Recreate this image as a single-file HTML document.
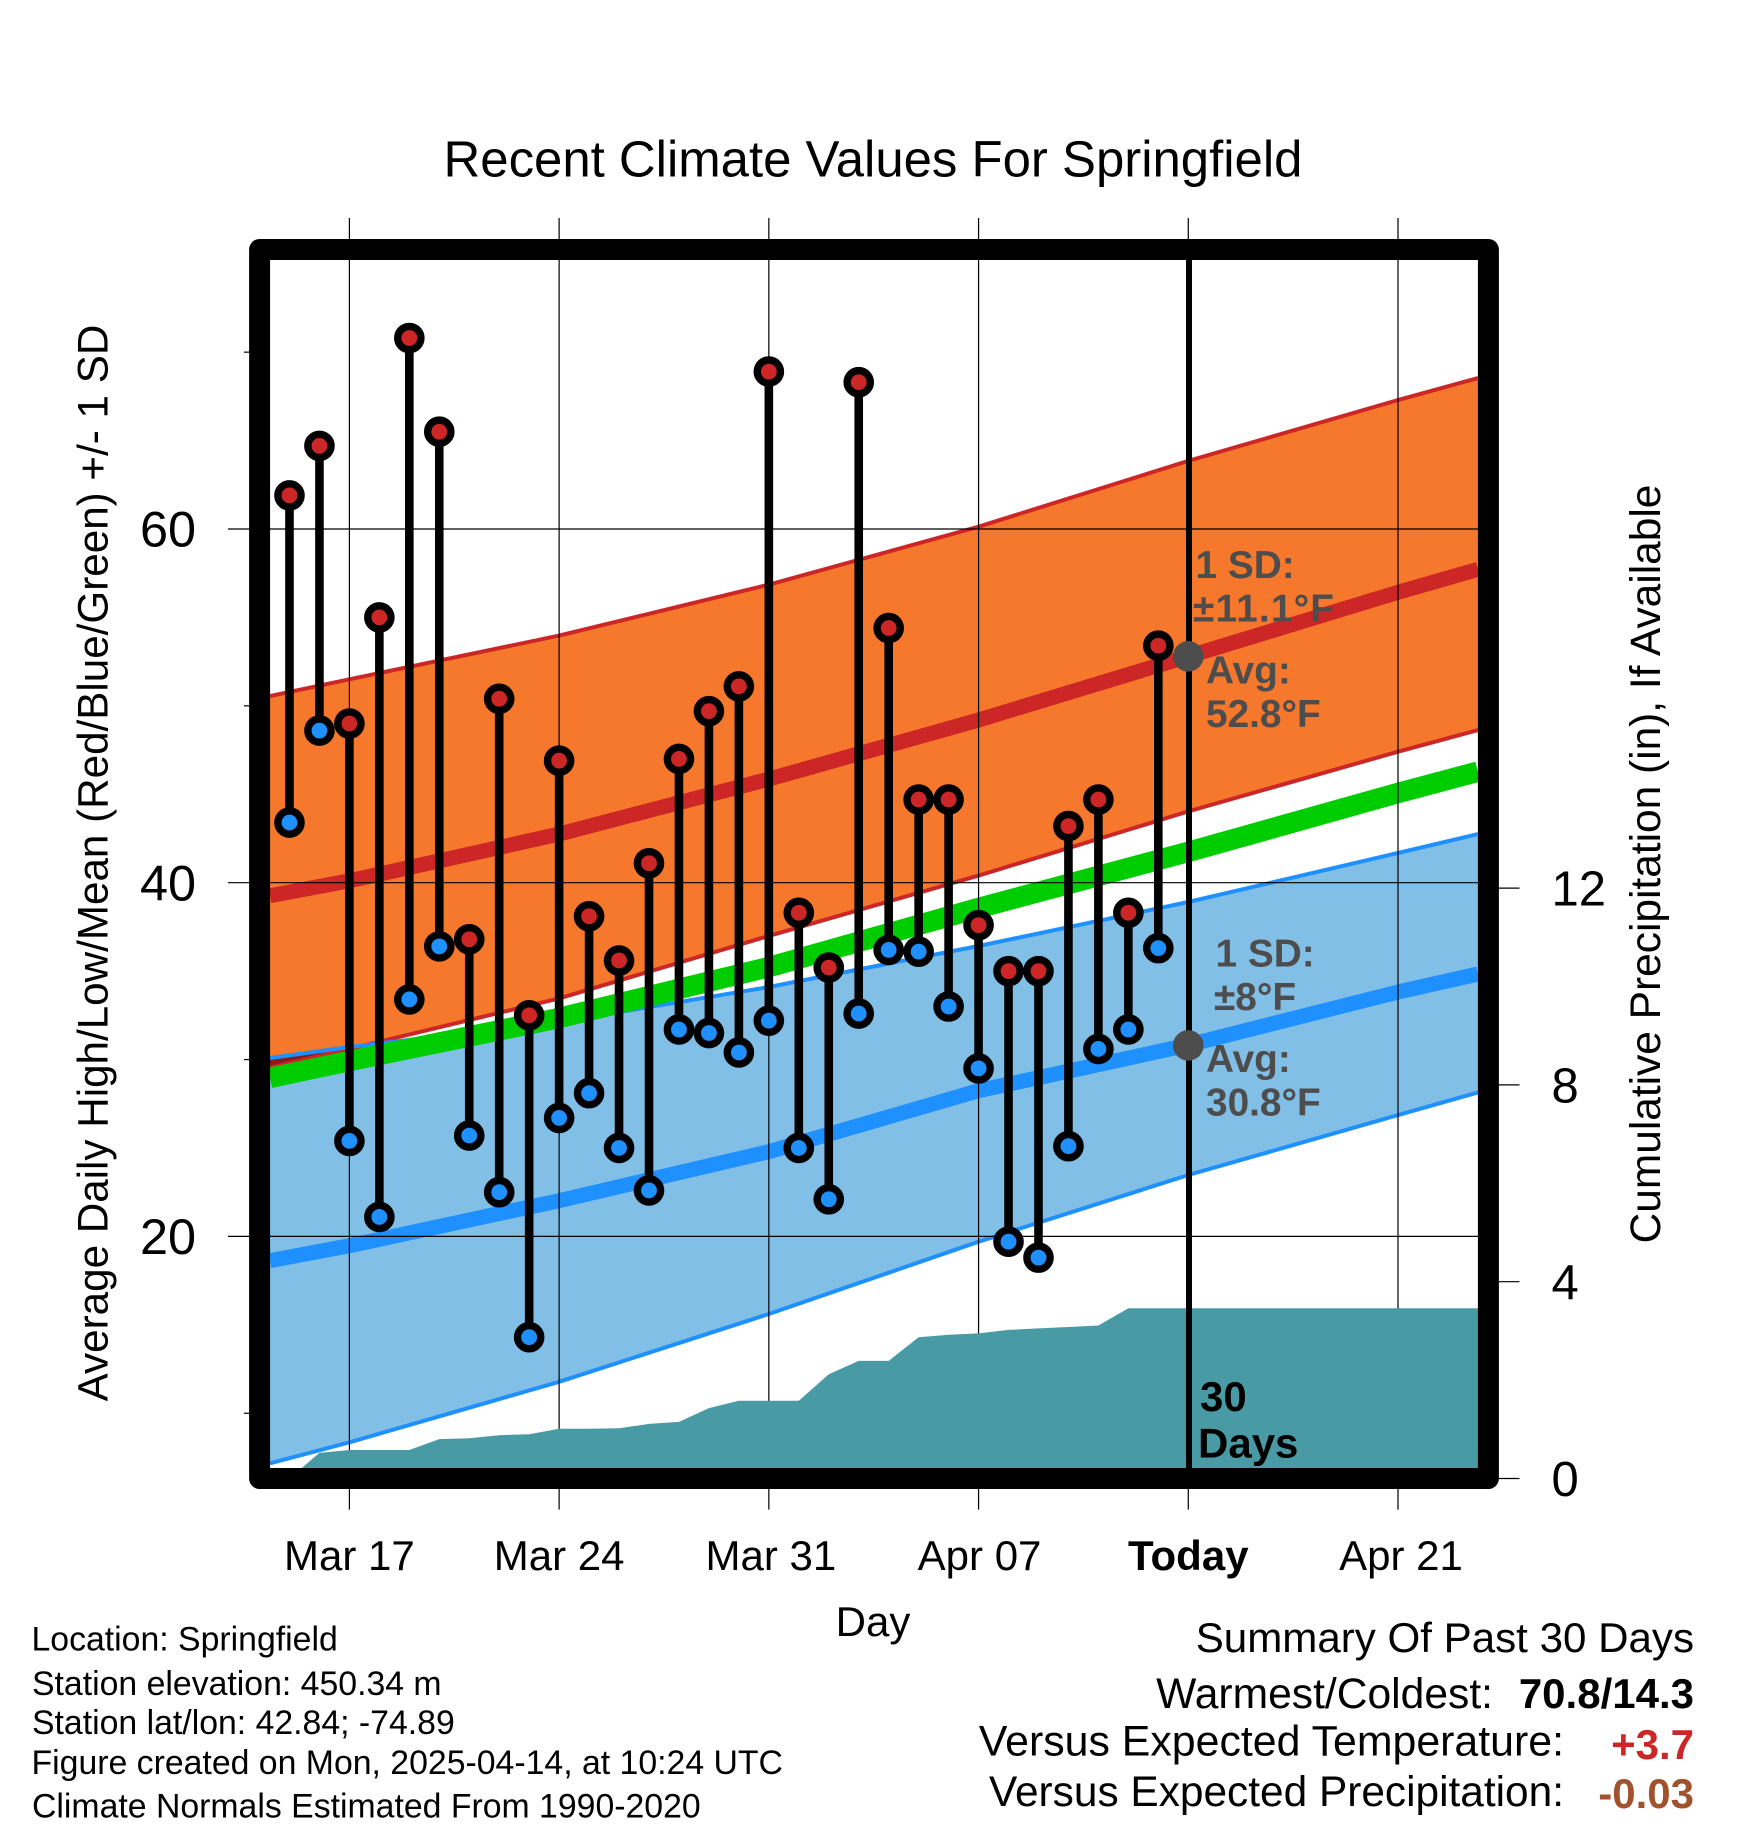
<!DOCTYPE html>
<html lang="en">
<head>
<meta charset="utf-8">
<title>Recent Climate Values For Springfield</title>
<style>
html,body{margin:0;padding:0;background:#fff;}
svg{display:block;font-family:"Liberation Sans",Arial,sans-serif;}
.ann{font-weight:bold;font-size:38.8px;fill:#4d4d4d;}
.foot{font-size:33.8px;fill:#000;}
.sum{font-size:42px;fill:#000;}
.sumb{font-size:42px;font-weight:bold;text-anchor:end;}
</style>
</head>
<body>
<svg id="chart" xmlns="http://www.w3.org/2000/svg" width="1748" height="1828" viewBox="0 0 1748 1828">
  <defs>
    <clipPath id="plot-clip"><rect x="270" y="260" width="1208" height="1208"/></clipPath>
  </defs>
  <rect x="0" y="0" width="1748" height="1828" fill="#ffffff"/>
  <g id="bands" clip-path="url(#plot-clip)"></g>
  <g id="grid"></g>
  <g id="precip" clip-path="url(#plot-clip)"></g>
  <g id="obs"></g>
  <line x1="1189" y1="255" x2="1189" y2="1470" stroke="#000" stroke-width="6"/>
  <g id="today-dots"></g>
  <rect x="259.6" y="249.5" width="1228.8" height="1229" fill="none" stroke="#000" stroke-width="21" stroke-linejoin="round"/>
  <g id="labels"></g>

  <text x="873" y="176.7" font-size="50.9" text-anchor="middle">Recent Climate Values For Springfield</text>
  <text transform="translate(107.5 863) rotate(-90)" font-size="42.2" text-anchor="middle">Average Daily High/Low/Mean (Red/Blue/Green) +/- 1 SD</text>
  <text transform="translate(1660 864) rotate(-90)" font-size="42.45" text-anchor="middle">Cumulative Precipitation (in), If Available</text>
  <text x="873" y="1636" font-size="42" text-anchor="middle">Day</text>

  <text class="ann" x="1195.5" y="578">1 SD:</text>
  <text class="ann" x="1193" y="621.5" textLength="141">±11.1°F</text>
  <text class="ann" x="1206" y="683.7">Avg:</text>
  <text class="ann" x="1206" y="726.8">52.8°F</text>
  <text class="ann" x="1215.5" y="966.4">1 SD:</text>
  <text class="ann" x="1214" y="1010">±8°F</text>
  <text class="ann" x="1206" y="1072">Avg:</text>
  <text class="ann" x="1206" y="1115.7">30.8°F</text>
  <text x="1200" y="1411" font-size="42" font-weight="bold">30</text>
  <text x="1198" y="1457.6" font-size="42" font-weight="bold">Days</text>

  <text class="foot" x="31.5" y="1650.5">Location: Springfield</text>
  <text class="foot" x="32" y="1695">Station elevation: 450.34 m</text>
  <text class="foot" x="32" y="1734">Station lat/lon: 42.84; -74.89</text>
  <text class="foot" x="31.5" y="1774">Figure created on Mon, 2025-04-14, at 10:24 UTC</text>
  <text class="foot" x="32" y="1817.5">Climate Normals Estimated From 1990-2020</text>

  <text class="sum" x="1694" y="1652" text-anchor="end" style="font-size:42.1px">Summary Of Past 30 Days</text>
  <text class="sum" x="1493" y="1708" text-anchor="end" style="font-size:42.6px">Warmest/Coldest:</text>
  <text class="sumb" x="1694" y="1708" fill="#000">70.8/14.3</text>
  <text class="sum" x="1564" y="1755.5" text-anchor="end" style="font-size:42.85px">Versus Expected Temperature:</text>
  <text class="sumb" x="1694" y="1759" fill="#cd2626">+3.7</text>
  <text class="sum" x="1564" y="1806" text-anchor="end" style="font-size:42.4px">Versus Expected Precipitation:</text>
  <text class="sumb" x="1694" y="1808" fill="#a0522d">-0.03</text>
</svg>
<script>
// Days are counted from Mar 17.
const normalDays = [-2.65, 0, 7, 14, 21, 28, 35, 37.67];
const highUpper = [50.55, 51.5, 53.97, 56.85, 60.13, 63.85, 67.29, 68.54];
const highMean = [39.26, 40.11, 42.75, 45.86, 49.2, 52.8, 56.42, 57.72];
const highLower = [29.54, 30.6, 33.46, 36.99, 40.4, 44.03, 47.41, 48.63];
const greenMean = [28.96, 29.92, 32.35, 35.23, 38.57, 41.74, 45.07, 46.28];
const lowUpper = [30.09, 30.71, 32.12, 34.1, 36.42, 38.91, 41.68, 42.75];
const lowMean = [18.63, 19.47, 22.02, 24.79, 28.24, 30.82, 33.82, 34.84];
const lowLower = [7.17, 8.36, 11.78, 15.61, 19.7, 23.47, 26.86, 28.14];

const obsDays = [-2, -1, 0, 1, 2, 3, 4, 5, 6, 7, 8, 9, 10, 11, 12, 13, 14, 15, 16, 17, 18, 19, 20, 21, 22, 23, 24, 25, 26, 27];
const obsHigh = [61.9, 64.7, 49.0, 55.0, 70.8, 65.5, 36.8, 50.4, 32.5, 46.9, 38.1, 35.6, 41.1, 47.0, 49.7, 51.1, 68.9, 38.3, 35.2, 68.3, 54.4, 44.7, 44.7, 37.6, 35.0, 35.0, 43.2, 44.7, 38.3, 53.4];
const obsLow = [43.4, 48.6, 25.4, 21.1, 33.4, 36.4, 25.7, 22.5, 14.3, 26.7, 28.1, 25.0, 22.6, 31.7, 31.5, 30.4, 32.2, 25.0, 22.1, 32.6, 36.2, 36.1, 33.0, 29.5, 19.7, 18.8, 25.1, 30.6, 31.7, 36.3];

const precipDays = [-2, -1, 0, 1, 2, 3, 4, 5, 6, 7, 8, 9, 10, 11, 12, 13, 14, 15, 16, 17, 18, 19, 20, 21, 22, 23, 24, 25, 26, 27, 37.67];
const precipTotals = [0, 0.52, 0.58, 0.58, 0.58, 0.8, 0.82, 0.88, 0.9, 1.01, 1.01, 1.02, 1.11, 1.15, 1.43, 1.58, 1.58, 1.58, 2.12, 2.39, 2.39, 2.87, 2.92, 2.95, 3.02, 3.05, 3.08, 3.11, 3.46, 3.46, 3.46];

const xTickDays = [0, 7, 14, 21, 28, 35];
const xTickLabels = ['Mar 17', 'Mar 24', 'Mar 31', 'Apr 07', 'Today', 'Apr 21'];
const yMajorTicks = [20, 40, 60];
const yMinorTicks = [10, 30, 50, 70];
const precipTicks = [0, 4, 8, 12];
const todayDay = 28;
const todayHighAvg = 52.8;
const todayLowAvg = 30.8;

function xScale(d) { return 349.4 + 29.96 * d; }
function yScale(v) { return 529 + (60 - v) * 17.685; }
function pScale(p) { return 1478.5 - 49.2 * p; }

const NS = 'http://www.w3.org/2000/svg';
function make(tag, parentId, attrs) {
  const el = document.createElementNS(NS, tag);
  for (const k in attrs) el.setAttribute(k, attrs[k]);
  document.getElementById(parentId).appendChild(el);
  return el;
}
function pts(days, vals) {
  return days.map(function (d, i) { return xScale(d).toFixed(1) + ',' + yScale(vals[i]).toFixed(1); });
}
function bandPoints(up, lo) {
  return pts(normalDays, up).concat(pts(normalDays, lo).reverse()).join(' ');
}
function overlapPoints(top, bottom) {
  // Region where the low band's top sits above the high band's bottom.
  const upper = [], lower = [];
  for (let i = 0; i < normalDays.length; i++) {
    const over = bottom[i] < top[i];
    if (!over) break;
    upper.push([xScale(normalDays[i]), yScale(top[i])]);
    lower.push([xScale(normalDays[i]), yScale(bottom[i])]);
    const nextOver = i + 1 < normalDays.length && bottom[i + 1] < top[i + 1];
    if (!nextOver && i + 1 < normalDays.length) {
      const a = top[i] - bottom[i];
      const b = top[i + 1] - bottom[i + 1];
      const t = a / (a - b);
      const d = normalDays[i] + t * (normalDays[i + 1] - normalDays[i]);
      const v = top[i] + t * (top[i + 1] - top[i]);
      upper.push([xScale(d), yScale(v)]);
    }
  }
  return upper.concat(lower.reverse()).map(function (p) { return p[0].toFixed(1) + ',' + p[1].toFixed(1); }).join(' ');
}

// Bands and mean lines
const highBand = make('polygon', 'bands', { points: bandPoints(highUpper, highLower), fill: '#f6782c' });


const lowBand = make('polygon', 'bands', { points: bandPoints(lowUpper, lowLower), fill: '#82bfe6' });


const wedge = make('polygon', 'bands', { points: overlapPoints(lowUpper, highLower), fill: '#8b1a1a' });



const highUpperLine = make('polyline', 'bands', { points: pts(normalDays, highUpper).join(' '), fill: 'none', stroke: '#cd2626', 'stroke-width': 4 });


const highLowerLine = make('polyline', 'bands', { points: pts(normalDays, highLower).join(' '), fill: 'none', stroke: '#cd2626', 'stroke-width': 4 });


const lowUpperLine = make('polyline', 'bands', { points: pts(normalDays, lowUpper).join(' '), fill: 'none', stroke: '#1e90ff', 'stroke-width': 4 });


const lowLowerLine = make('polyline', 'bands', { points: pts(normalDays, lowLower).join(' '), fill: 'none', stroke: '#1e90ff', 'stroke-width': 4 });


const greenLine = make('polyline', 'bands', { points: pts(normalDays, greenMean).join(' '), fill: 'none', stroke: '#00cd00', 'stroke-width': 20.5 });


const highMeanLine = make('polyline', 'bands', { points: pts(normalDays, highMean).join(' '), fill: 'none', stroke: '#cd2626', 'stroke-width': 15 });


const lowMeanLine = make('polyline', 'bands', { points: pts(normalDays, lowMean).join(' '), fill: 'none', stroke: '#1e90ff', 'stroke-width': 15 });



// Grid and ticks
xTickDays.forEach(function (d, i) {
  const x = xScale(d);
  const line = make('line', 'grid', { x1: x, x2: x, y1: 218, y2: 1509.6, stroke: '#000', 'stroke-width': 1.2 });
  
  
  const isToday = xTickLabels[i] === 'Today';
  const labelX = x + (d === 14 ? 2 : d === 21 ? 1 : d === 35 ? 3 : 0);
  const label = make('text', 'labels', { x: labelX, y: 1570, 'font-size': 42, 'text-anchor': 'middle', 'font-weight': isToday ? 'bold' : 'normal' });
  
  
  label.textContent = xTickLabels[i];
});
yMajorTicks.forEach(function (v) {
  const y = yScale(v);
  const line = make('line', 'grid', { x1: 228, x2: 1490, y1: y, y2: y, stroke: '#000', 'stroke-width': 1.2 });
  
  
  const label = make('text', 'labels', { x: 196, y: y + 17.7, 'font-size': 50.4, 'text-anchor': 'end' });
  
  
  label.textContent = String(v);
});
yMinorTicks.forEach(function (v) {
  const y = yScale(v);
  const tick = make('line', 'grid', { x1: 244, x2: 252, y1: y, y2: y, stroke: '#000', 'stroke-width': 1.2 });
  
  
});
precipTicks.forEach(function (p) {
  const y = pScale(p);
  const tick = make('line', 'grid', { x1: 1495, x2: 1519.5, y1: y, y2: y, stroke: '#000', 'stroke-width': 1.2 });
  
  
  const label = make('text', 'labels', { x: 1551.5, y: y + 17.5, 'font-size': 49 });
  
  
  label.textContent = String(p);
});

// Cumulative precipitation
(function () {
  const top = precipDays.map(function (d, i) { return xScale(d).toFixed(1) + ',' + pScale(precipTotals[i]).toFixed(1); });
  const first = xScale(precipDays[0]).toFixed(1) + ',' + pScale(0);
  const last = xScale(precipDays[precipDays.length - 1]).toFixed(1) + ',' + pScale(0);
  const area = make('polygon', 'precip', { points: [first].concat(top, [last]).join(' '), fill: '#489aa4' });
  
  
})();

// Observed high/low stems and markers
obsDays.forEach(function (d, i) {
  const x = xScale(d);
  const stem = make('line', 'obs', { x1: x, x2: x, y1: yScale(obsHigh[i]), y2: yScale(obsLow[i]), stroke: '#000', 'stroke-width': 8.6 });
  
  
});
obsDays.forEach(function (d, i) {
  const x = xScale(d);
  const hi = make('circle', 'obs', { cx: x, cy: yScale(obsHigh[i]), r: 11.6, fill: '#cd2626', stroke: '#000', 'stroke-width': 7.4 });
  
  
  const lo = make('circle', 'obs', { cx: x, cy: yScale(obsLow[i]), r: 11.6, fill: '#1e90ff', stroke: '#000', 'stroke-width': 7.4 });
  
  
});

// Today's average dots
const highDot = make('circle', 'today-dots', { cx: xScale(todayDay), cy: yScale(todayHighAvg), r: 15.3, fill: '#4d4d4d' });


const lowDot = make('circle', 'today-dots', { cx: xScale(todayDay), cy: yScale(todayLowAvg), r: 15.3, fill: '#4d4d4d' });


</script>
</body>
</html>
